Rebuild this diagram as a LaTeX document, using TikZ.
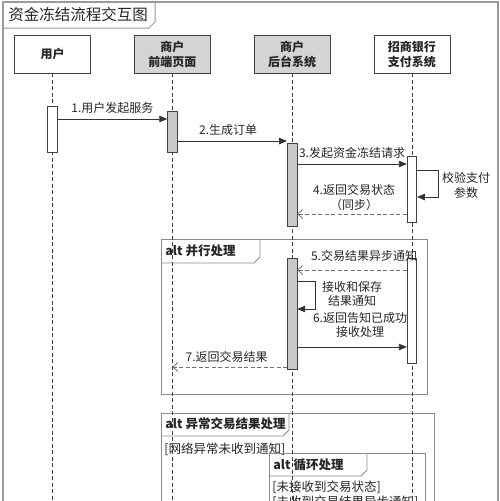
\documentclass[tikz,border=0pt]{standalone}
\usepackage{fontspec}
\setmainfont{Noto Sans CJK SC}
\usetikzlibrary{arrows.meta,positioning,calc}
\definecolor{headgray}{HTML}{D4D4D4}
\definecolor{actgray}{HTML}{C8C8C8}
\definecolor{headline}{HTML}{404040}
\definecolor{frameline}{HTML}{8A8A8A}
\definecolor{msgline}{HTML}{333333}
\definecolor{replyline}{HTML}{707070}
\definecolor{outerline}{HTML}{9A9A9A}
\tikzset{
    every node/.style={color=black!85, font=\fontsize{12}{14.5}\selectfont},
    msglabel/.style={align=center, inner sep=1pt},
    tabtext/.style={anchor=west, inner sep=0pt, font=\fontsize{12.5}{14}\selectfont\bfseries},
    guard/.style={anchor=west, inner sep=0pt, font=\fontsize{12.5}{14}\selectfont}
}

\begin{document}
\begin{tikzpicture}[
        x=1pt, y=-1pt,
        line width=0.8pt,
        head/.style={rectangle, draw=headline, minimum width=76pt, minimum height=38pt, align=center, font=\fontsize{12}{15}\selectfont\bfseries},
        act/.style={rectangle, draw=headline, minimum width=9.5pt, anchor=north, inner sep=0pt, line width=0.6pt},
        lifeline/.style={draw=headline, dash pattern=on 4pt off 2.5pt, line width=0.5pt},
        msg/.style={draw=msgline, -{Triangle[length=8pt,width=6.5pt]}},
        reply/.style={draw=replyline, dash pattern=on 4pt off 2.5pt, -{Straight Barb[length=5pt,width=9pt]}},
        frame/.style={draw=frameline, line width=0.8pt}
    ]
    \useasboundingbox (0,0) rectangle (500,501);

    % Outer frame and title
    \draw[draw=outerline, line width=1.6pt] (3,2) rectangle (498,530);
    \draw[draw=outerline, line width=1pt] (3,28) -- (149,28) -- (155,22) -- (155,2);
    \node[anchor=west, inner sep=0pt, font=\fontsize{15.5}{16}\selectfont] (title) at (8,15) {资金冻结流程交互图};

    % Fragments
    \draw[frame] (161,239) rectangle (427,394);
    \draw[frame] (161,263) -- (254,263) -- (260,257) -- (260,239);
    \node[tabtext] (alt1) at (165,251) {alt 并行处理};

    \draw[frame] (161,413) rectangle (434,530);
    \draw[frame] (161,436) -- (283,436) -- (289,430) -- (289,413);
    \node[tabtext] (alt2) at (165,424) {alt 异常交易结果处理};
    \node[guard] (guard2) at (164,449) {[网络异常未收到通知]};

    \draw[frame] (269,453) rectangle (425,530);
    \draw[frame] (269,476) -- (361,476) -- (367,470) -- (367,453);
    \node[tabtext] (alt3) at (273,465) {alt 循环处理};
    \node[guard] (guard3) at (272,487) {[未接收到交易状态]};
    \node[guard] (guard4) at (272,502) {[未收到交易结果异步通知]};

    % Lifeline heads
    \node[head, fill=white]                        (user)  at (52.5,54) {用户};
    \node[head, fill=headgray, right=43pt of user]  (front) {商户\\前端页面};
    \node[head, fill=headgray, right=43pt of front] (back)  {商户\\后台系统};
    \node[head, fill=white, right=43pt of back]     (bank)  {招商银行\\支付系统};

    \foreach \p in {user,front,back,bank}
        \draw[lifeline] (\p.south) -- (\p.south |- 0,510);

    % Activations
    \node[act, fill=white, minimum height=46pt]   (userAct)  at (user.south |- 0,106) {};
    \node[act, fill=actgray, minimum height=41pt] (frontAct) at (front.south |- 0,111) {};
    \node[act, fill=actgray, minimum height=83pt] (backAct)  at (back.south |- 0,143) {};
    \node[act, fill=white, minimum height=66pt]   (bankAct)  at (bank.south |- 0,156) {};
    \node[act, fill=actgray, minimum height=111pt] (backAltAct) at (back.south |- 0,258) {};
    \node[act, fill=white, minimum height=105pt]  (bankAltAct) at (bank.south |- 0,258) {};

    % Messages
    \draw[msg] (userAct.east |- 0,119) -- node[msglabel, above=4pt] {1.用户发起服务} (frontAct.west |- 0,119);
    \draw[msg] (frontAct.east |- 0,141) -- node[msglabel, above=4pt, xshift=-4pt] {2.生成订单} (backAct.west |- 0,141);
    \draw[msg] (backAct.east |- 0,164) -- node[msglabel, above=4pt] {3.发起资金冻结请求} (bankAct.west |- 0,164);
    \draw[msg] (bankAct.east |- 0,170) -- ++(21,0) |- (bankAct.east |- 0,197);
    \node[msglabel] (check) at (466,185.5) {校验支付\\参数};
    \draw[reply] (bankAct.west |- 0,214) -- node[msglabel, above=2pt, xshift=2pt] {4.返回交易状态\\（同步）} (backAct.east |- 0,214);

    \draw[reply] (bankAltAct.west |- 0,270) -- node[msglabel, above=7pt, xshift=12pt] {5.交易结果异步通知} (backAltAct.east |- 0,270);
    \draw[msg] (backAltAct.east |- 0,281) -- ++(18,0) |- (backAltAct.east |- 0,309);
    \node[msglabel] (store) at (352,294) {接收和保存\\结果通知};
    \draw[msg] (backAltAct.east |- 0,347) -- node[msglabel, above=8pt, xshift=8pt] {6.返回告知已成功\\接收处理} (bankAltAct.west |- 0,347);
    \draw[reply] (backAltAct.west |- 0,367) -- node[msglabel, above=3pt, xshift=-3pt] {7.返回交易结果} (front.south |- 0,367);

\end{tikzpicture}
\end{document}
